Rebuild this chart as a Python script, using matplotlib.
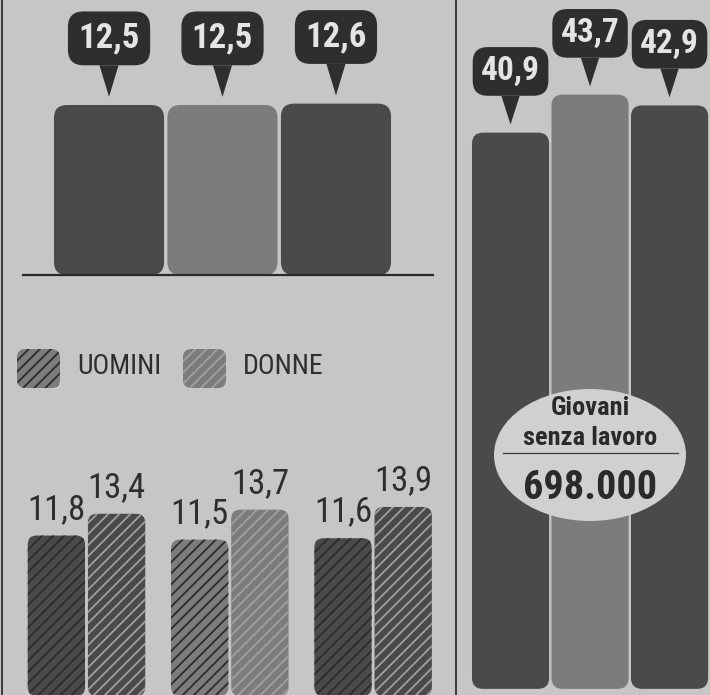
import matplotlib
matplotlib.use("Agg")
import matplotlib.pyplot as plt
from matplotlib.patches import FancyBboxPatch, Ellipse
from matplotlib import font_manager

# --- dati ---
tot_valori = [12.5, 12.5, 12.6]
tot_etichette = ["12,5", "12,5", "12,6"]

uomini = [11.8, 11.5, 11.6]
donne = [13.4, 13.7, 13.9]
uomini_etichette = ["11,8", "11,5", "11,6"]
donne_etichette = ["13,4", "13,7", "13,9"]
serie = ["UOMINI", "DONNE"]

giovani_valori = [40.9, 43.7, 42.9]
giovani_etichette = ["40,9", "43,7", "42,9"]
riquadro_titolo = ["Giovani", "senza lavoro"]
riquadro_valore = "698.000"

# --- stile ---
W, H = 710, 695
SCALA = 13.6  # pixel per unità, uguale nei tre pannelli
sfondo = "#c6c6c6"
scuro = "#4a4a4a"
medio = "#7c7c7c"
colori_gruppi = [scuro, medio, scuro]
hatch_colori = ["#2c2c2c", "#a0a0a0"]
box_col = "#2e2e2e"

# cerca un carattere stretto
fonts = font_manager.fontManager.ttflist
nomi = {f.name for f in fonts}
stretch = "normal"
if "Roboto Condensed" in nomi:
    famiglia = "Roboto Condensed"
elif any(f.name == "DejaVu Sans" and f.stretch == "condensed" for f in fonts):
    famiglia, stretch = "DejaVu Sans", "condensed"
elif "Liberation Sans Narrow" in nomi:
    famiglia = "Liberation Sans Narrow"
else:
    famiglia = "Roboto"
stretto = famiglia in ("Roboto Condensed", "Liberation Sans Narrow") or stretch == "condensed"
k = 1.0 if stretto else 0.8  # riduzione se il carattere non è stretto

plt.rcParams["font.family"] = [famiglia, "DejaVu Sans"]
plt.rcParams["font.stretch"] = stretch
plt.rcParams["hatch.linewidth"] = 1.3

fig = plt.figure(figsize=(W / 100, H / 100), dpi=100, facecolor=sfondo)


def px_axes(x0, y0, x1, y1):
    ax = fig.add_axes([x0 / W, 1 - y1 / H, (x1 - x0) / W, (y1 - y0) / H])
    ax.set_axis_off()
    return ax


def arrotonda(ax, bars, r_px, **kw):
    fig.canvas.draw()
    p0 = ax.transData.transform((0, 0))
    p1 = ax.transData.transform((1, 1))
    ux, uy = p1[0] - p0[0], p1[1] - p0[1]
    for b in bars:
        x, y = b.get_xy()
        w, h = b.get_width(), b.get_height()
        fb = FancyBboxPatch((x, y), w, h,
                            boxstyle=f"round,pad=0,rounding_size={r_px / ux}",
                            mutation_aspect=ux / uy,
                            fc=b.get_facecolor(), ec=kw.get("ec", "none"),
                            lw=0, hatch=kw.get("hatch"), zorder=2)
        b.remove()
        ax.add_patch(fb)


def callout(ax, x, v, testo, size, alto=4.9, pad=0.3):
    ax.annotate(testo, xy=(x, v + 0.6), xytext=(x, v + alto),
                ha="center", va="center", color="#e4e4e4", fontsize=size,
                fontweight="bold",
                bbox=dict(boxstyle=f"round,pad={pad},rounding_size=0.45",
                          fc=box_col, ec="none"),
                arrowprops=dict(arrowstyle="wedge,tail_width=0.55,shrink_factor=0.5",
                                fc=box_col, ec="none", shrinkA=0, shrinkB=0))


# pannello in alto a sinistra
ax1 = px_axes(23, 0, 433, 275)
ax1.set_xlim(-0.758, 2.855)
ax1.set_ylim(0, 275 / SCALA)
b1 = ax1.bar(range(3), tot_valori, width=0.97, color=colori_gruppi)
arrotonda(ax1, b1, 13)
for i, (v, t) in enumerate(zip(tot_valori, tot_etichette)):
    callout(ax1, i, v, t, 25 * k)
ax1.plot([0, 1], [0, 0], transform=ax1.transAxes, color="#2a2a2a", lw=1.6,
         clip_on=False)

# legenda
for (x0, nome, hc) in [(17, serie[0], hatch_colori[0]), (183, serie[1], hatch_colori[1])]:
    p = FancyBboxPatch((x0 / W, 1 - 388 / H), 43 / W, 39 / H,
                       boxstyle="round,pad=0,rounding_size=0.012",
                       transform=fig.transFigure, fc=medio, ec=hc, lw=0,
                       hatch="///")
    fig.add_artist(p)
    fig.text((x0 + 60) / W, 1 - 367 / H, nome, fontsize=20 * k, color="#2e2e2e",
             va="center", ha="left")

# pannello in basso a sinistra
ax2 = px_axes(23, 400, 433, 696)
ax2.set_xlim(-0.443, 2.418)
ax2.set_ylim(0, 296 / SCALA)
for s, (vals, etich) in enumerate([(uomini, uomini_etichette), (donne, donne_etichette)]):
    off = -0.21 if s == 0 else 0.21
    xs = [i + off for i in range(3)]
    bb = ax2.bar(xs, vals, width=0.4, color=colori_gruppi)
    arrotonda(ax2, bb, 9, ec=hatch_colori[s], hatch="///")
    for x, v, t in zip(xs, vals, etich):
        ax2.annotate(t, (x, v), xytext=(0, 7), textcoords="offset points",
                     ha="center", va="bottom", fontsize=25 * k,
                     color="#2e2e2e")

# pannello a destra
ax3 = px_axes(456, 0, 710, 695)
ax3.set_xlim(-0.686, 2.509)
ax3.set_ylim(-0.45, 695 / SCALA - 0.45)
b3 = ax3.bar(range(3), giovani_valori, width=0.97, color=colori_gruppi)
arrotonda(ax3, b3, 11)
for i, (v, t) in enumerate(zip(giovani_valori, giovani_etichette)):
    callout(ax3, i, v, t, 24 * k, alto=4.5, pad=0.25)

# riquadro ellittico
fig.add_artist(Ellipse((590 / W, 1 - 455 / H), 192 / W, 132 / H,
                       transform=fig.transFigure, fc="#d0d0d0", ec="none", zorder=5))
fig.text(590 / W, 1 - 408 / H, riquadro_titolo[0], ha="center", va="center",
         fontsize=19 * k, fontweight="bold", color="#2a2a2a", zorder=6)
fig.text(590 / W, 1 - 438 / H, riquadro_titolo[1], ha="center", va="center",
         fontsize=19 * k, fontweight="bold", color="#2a2a2a", zorder=6)
fig.add_artist(plt.Line2D([503 / W, 678 / W], [1 - 453 / H, 1 - 453 / H],
                          transform=fig.transFigure, color="#3a3a3a", lw=0.9, zorder=6))
fig.text(590 / W, 1 - 488 / H, riquadro_valore, ha="center", va="center",
         fontsize=29 * k, fontweight="bold", color="#2a2a2a", zorder=6)

# linee di separazione
fig.add_artist(plt.Line2D([456 / W, 456 / W], [0, 1], transform=fig.transFigure,
                          color="#3a3a3a", lw=1.4))
fig.add_artist(plt.Line2D([2 / W, 2 / W], [0, 1], transform=fig.transFigure,
                          color="#3a3a3a", lw=1.4))

fig.savefig("out.png", dpi=100, facecolor=sfondo)
